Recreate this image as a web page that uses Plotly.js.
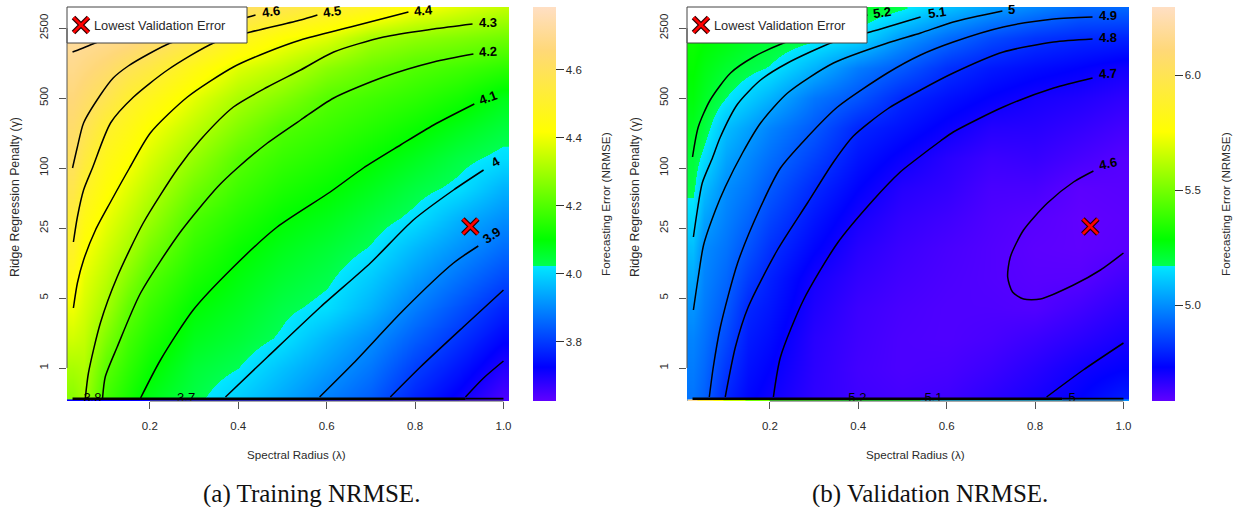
<!DOCTYPE html>
<html><head><meta charset="utf-8">
<script src="https://cdn.plot.ly/plotly-3.0.1.min.js"></script>
<style>html,body{margin:0;padding:0;background:#fff}#g{width:1242px;height:507px}</style>
</head><body><div id="g"></div>
<script>
// grid: spectral radius (lambda) and log10 of ridge penalty (gamma)
const lambdas=[0.025,0.05,0.10,0.15,0.20,0.30,0.40,0.50,0.60,0.70,0.80,0.90,1.0];
const logGammas=[-0.30,0,0.30,0.60,0.90,1.20,1.50,1.80,2.10,2.40,2.70,3.00,3.30,3.60];
const gammaTicks=[0,0.699,1.398,2,2.699,3.398];
const gammaTickText=['1','5','25','100','500','2500'];
const lambdaTicks=[0.2,0.4,0.6,0.8,1.0];

// training NRMSE, one list per lambda, from lowest to highest gamma
const trainColumns=[
[4.27,4.31,4.36,4.40,4.45,4.50,4.53,4.57,4.61,4.63,4.66,4.69,4.72,4.77],
[4.30,4.32,4.344,4.366,4.387,4.417,4.46,4.503,4.548,4.593,4.633,4.673,4.71,4.76],
[4.18,4.213,4.258,4.302,4.333,4.363,4.394,4.43,4.468,4.51,4.58,4.64,4.70,4.76],
[4.13,4.157,4.185,4.22,4.266,4.31,4.345,4.38,4.42,4.465,4.515,4.59,4.69,4.75],
[4.08,4.11,4.14,4.17,4.203,4.248,4.293,4.332,4.37,4.41,4.474,4.553,4.65,4.73],
[4.035,4.05,4.076,4.10,4.132,4.163,4.194,4.24,4.287,4.336,4.385,4.46,4.58,4.68],
[3.99,4.024,4.05,4.07,4.09,4.112,4.144,4.178,4.21,4.262,4.313,4.377,4.49,4.62],
[3.943,3.974,4.017,4.034,4.056,4.078,4.103,4.136,4.168,4.2,4.263,4.334,4.419,4.57],
[3.89,3.926,3.96,4.01,4.031,4.052,4.079,4.108,4.14,4.173,4.205,4.273,4.378,4.525],
[3.845,3.877,3.91,3.955,3.985,4.02,4.046,4.076,4.107,4.144,4.18,4.232,4.305,4.48],
[3.77,3.805,3.846,3.887,3.925,3.963,4.012,4.04,4.074,4.113,4.156,4.2,4.278,4.416],
[3.715,3.752,3.79,3.83,3.872,3.914,3.955,4.012,4.038,4.078,4.125,4.18,4.26,4.375],
[3.65,3.69,3.732,3.772,3.82,3.865,3.91,3.955,4.01,4.044,4.08,4.155,4.24,4.34]];
// validation NRMSE, same arrangement
const validColumns=[
[4.95,4.965,4.98,5.01,5.05,5.09,5.14,5.185,5.205,5.24,5.27,5.29,5.31,5.34],
[4.913,4.93,4.947,4.964,4.98,4.995,5.04,5.09,5.15,5.20,5.235,5.26,5.29,5.32],
[4.80,4.833,4.868,4.90,4.926,4.95,4.975,4.998,5.043,5.088,5.17,5.22,5.27,5.31],
[4.74,4.76,4.78,4.803,4.845,4.886,4.923,4.957,4.99,5.037,5.12,5.19,5.24,5.30],
[4.71,4.73,4.75,4.77,4.79,4.822,4.86,4.90,4.94,4.98,5.07,5.165,5.22,5.29],
[4.66,4.665,4.67,4.685,4.70,4.737,4.77,4.806,4.854,4.90,4.956,5.07,5.185,5.26],
[4.635,4.63,4.635,4.64,4.655,4.672,4.697,4.732,4.766,4.80,4.89,4.965,5.14,5.24],
[4.625,4.615,4.615,4.62,4.63,4.64,4.655,4.675,4.715,4.76,4.805,4.90,5.02,5.18],
[4.635,4.62,4.61,4.61,4.615,4.62,4.635,4.655,4.67,4.715,4.76,4.82,4.935,5.095],
[4.665,4.64,4.62,4.61,4.605,4.605,4.61,4.62,4.64,4.675,4.725,4.775,4.87,5.03],
[4.695,4.67,4.64,4.605,4.595,4.59,4.597,4.62,4.648,4.672,4.697,4.75,4.827,4.98],
[4.73,4.705,4.665,4.63,4.597,4.585,4.583,4.59,4.623,4.652,4.683,4.73,4.805,4.93],
[4.78,4.728,4.694,4.661,4.628,4.595,4.59,4.595,4.60,4.628,4.66,4.705,4.795,4.925]];

// gamma = 0 row at the foot of each panel
const trainFootEdges=[0.0125,0.33,0.6,0.75,0.9,1.0125];
const trainFoot=[3.72,3.72,3.70,3.68,3.65];
const validFootEdges=[0.0134,0.036,0.072,0.095,0.144,0.200,0.359,0.540,0.862,1.0125];
const validFoot=[6.2,5.95,5.8,5.65,5.5,5.35,5.25,5.1,5.0];
const footLog=[-0.33,-0.314];

// contour lines: [level, lambdas, log10 gammas]
const trainContours=[
['4.7',[.025,.043,.065,.099],[3.16,3.19,3.23,3.29]],
['4.6',[.025,.036,.050,.088,.117,.151,.197,.246,.337,.423,.439],[2.00,2.21,2.45,2.73,2.90,3.02,3.14,3.25,3.38,3.51,3.53]],
['4.5',[.027,.036,.050,.070,.111,.163,.240,.344,.428,.541,.579],[1.26,1.51,1.78,2.00,2.45,2.71,2.98,3.25,3.36,3.48,3.53]],
['4.4',[.027,.036,.050,.077,.111,.154,.201,.285,.389,.466,.541,.654,.785],[.60,.85,1.08,1.38,1.66,2.00,2.35,2.71,3.01,3.16,3.28,3.41,3.56]],
['4.3',[.054,.061,.088,.126,.185,.264,.314,.389,.466,.541,.616,.729,.842,.930],[-.30,-.05,.45,.91,1.45,2.00,2.28,2.61,2.81,2.98,3.16,3.31,3.39,3.44]],
['4.2',[.093,.099,.126,.179,.269,.353,.398,.466,.541,.616,.729,.842,.932],[-.30,-.09,.21,.75,1.36,1.81,2.00,2.25,2.48,2.70,2.91,3.06,3.14]],
['4.1',[.179,.224,.298,.389,.488,.608,.683,.767,.842,.934],[-.30,.08,.58,1.01,1.41,1.76,2.00,2.23,2.43,2.64]],
['4',[.371,.466,.586,.699,.796,.887,.955],[-.29,.11,.61,1.05,1.48,1.78,1.98]],
['3.9',[.584,.661,.774,.887,.943],[-.29,.05,.58,1.05,1.22]],
['3.8',[.744,.812,.909,1.0],[-.29,.01,.41,.78]],
['3.7',[.914,.955,1.0],[-.29,-.10,.07]]];
const validContours=[
['5.2',[.025,.038,.065,.111,.163,.231,.405,.421],[2.11,2.41,2.68,2.95,3.11,3.25,3.51,3.53]],
['5.1',[.027,.036,.047,.070,.088,.127,.179,.240,.344,.427,.541],[1.31,1.58,1.85,2.10,2.31,2.64,2.88,3.05,3.26,3.36,3.51]],
['5',[.027,.038,.050,.077,.099,.138,.179,.240,.344,.466,.541,.615,.726],[.58,.91,1.23,1.58,1.81,2.15,2.45,2.75,3.05,3.25,3.35,3.46,3.57]],
['4.9',[.063,.072,.088,.127,.179,.224,.285,.353,.466,.541,.615,.728,.842,.930],[-.29,.01,.41,1.05,1.61,2.00,2.31,2.61,2.95,3.13,3.26,3.41,3.49,3.51]],
['4.8',[.099,.122,.151,.217,.285,.344,.389,.466,.541,.615,.728,.842,.930],[-.29,.21,.61,1.18,1.65,2.06,2.32,2.59,2.78,2.95,3.16,3.26,3.29]],
['4.7',[.208,.224,.276,.353,.434,.495,.529,.586,.615,.728,.842,.930],[-.29,.11,.68,1.25,1.68,1.96,2.08,2.27,2.36,2.61,2.80,2.90]],
['4.7',[.826,.909,1.0],[-.29,-.02,.25]],
['4.6',[.932,.887,.828,.774,.744,.738,.749,.774,.812,.887,.948,1.0],[1.97,1.86,1.65,1.38,1.11,.91,.76,.69,.69,.83,.98,1.15]]];
// contours crowded along the foot of each panel
const trainBundle=[[.025,.914,2.6],[.914,1.0,1.8]];
const validBundle=[[.025,.861,2.6],[.861,1.0,1.8]];
const bundleLog=-0.307;

// contour labels: [text, lambda, log10 gamma, angle]
const trainLabels=[['4.6',.475,3.56,-8],['4.5',.613,3.56,-8],['4.4',.819,3.57,-5],['4.3',.964,3.45,0],['4.2',.966,3.16,-3],['4.1',.966,2.70,-20],['4',.984,2.06,-30],['3.9',.973,1.32,-35]];
const validLabels=[['5.2',.454,3.55,-8],['5.1',.577,3.55,-8],['5',.746,3.58,0],['4.9',.964,3.52,0],['4.8',.964,3.30,0],['4.7',.964,2.94,-3],['4.6',.966,2.04,-12]];
const trainFootLabels=[['3.8',.070],['3.7',.282]];
const validFootLabels=[['5.2',.398],['5.1',.570],['5',.884]];

// lowest validation error
const bestLambda=[0.925];
const bestLog=[1.415];
const legendText='Lowest Validation Error';
const xTitle='Spectral Radius (λ)', yTitle='Ridge Regression Penalty (γ)', barTitle='Forecasting Error (NRMSE)';

const trainRange=[3.626,4.785], validRange=[4.583,6.296];
const trainBarTicks=[3.8,4.0,4.2,4.4,4.6], validBarTicks=[5.0,5.5,6.0];
const scale=[[0,'#6000ff'],[0.086,'#0000ff'],[0.3429,'#00e8ff'],[0.3431,'#00ff50'],[0.41,'#00ff00'],[0.683,'#ffff00'],[0.89,'#ffd878'],[1,'#ffdfc4']];

const W=1242,H=507,pT=7,pB=401;
const transpose=c=>c[0].map((_,r)=>c.map(col=>col[r]));
const sans='"Liberation Sans",Arial,sans-serif', ink='#2a2a2a';

function panel(cols,foot,footEdges,contours,bundle,footLabels,xa,ya,ca,legA,legB){
  const ref={xaxis:xa,yaxis:ya};
  const t=[{type:'heatmap',x:lambdas,y:logGammas,z:transpose(cols),coloraxis:ca,zsmooth:'best',hoverinfo:'skip',...ref},
           {type:'heatmap',x:footEdges,y:footLog,z:[foot],coloraxis:ca,hoverinfo:'skip',...ref}];
  t.push({type:'scatter',mode:'text',x:footLabels.map(l=>l[1]),y:footLabels.map(()=>bundleLog-0.005),text:footLabels.map(l=>l[0]),textfont:{family:sans,size:13,color:'#000'},showlegend:false,hoverinfo:'skip',...ref});
  contours.forEach(c=>t.push({type:'scatter',mode:'lines',x:c[1],y:c[2],name:c[0],line:{color:'#000',width:1.5,shape:'spline',smoothing:0.7},showlegend:false,hoverinfo:'skip',...ref}));
  bundle.forEach(b=>t.push({type:'scatter',mode:'lines',x:[b[0],b[1]],y:[bundleLog,bundleLog],line:{color:'#000',width:b[2]},showlegend:false,hoverinfo:'skip',...ref}));
  t.push({type:'scatter',mode:'markers',x:bestLambda,y:bestLog,name:' ',legend:legA,showlegend:true,hoverinfo:'skip',
    marker:{symbol:'x-thin',size:15,line:{color:'#2a0000',width:5}},...ref});
  t.push({type:'scatter',mode:'markers',x:bestLambda,y:bestLog,name:' ',legend:legB,showlegend:true,hoverinfo:'skip',
    marker:{symbol:'x-thin',size:15,line:{color:'#ff0000',width:2.6}},...ref});
  return t;
}
const data=[...panel(trainColumns,trainFoot,trainFootEdges,trainContours,trainBundle,trainFootLabels,'x','y','coloraxis','legend','legend2'),
            ...panel(validColumns,validFoot,validFootEdges,validContours,validBundle,validFootLabels,'x2','y2','coloraxis2','legend3','legend4')];

const tickFont={family:sans,size:11.5,color:ink};
const yDom=[(H-pB)/H,(H-pT)/H];
const xax=(l,r)=>({domain:[l/W,r/W],range:[0.0125,1.0125],tickmode:'array',tickvals:lambdaTicks,ticktext:lambdaTicks.map(v=>v.toFixed(1)),ticks:'outside',ticklen:7,tickcolor:'#555',tickfont:tickFont,ticklabelstandoff:7,showgrid:false,zeroline:false,showline:false});
const yax=(anchor)=>({domain:yDom,anchor,range:[-0.33,3.61],tickmode:'array',tickvals:gammaTicks,ticktext:gammaTickText,tickangle:-90,ticks:'outside',ticklen:7,tickcolor:'#555',tickfont:tickFont,ticklabelstandoff:6,showgrid:false,zeroline:false,showline:false});
const cbar=(l,ticks)=>({x:l/W,xanchor:'left',xref:'paper',y:(H-pB)/H,yanchor:'bottom',yref:'paper',len:(pB-pT)/H,lenmode:'fraction',thickness:23,thicknessmode:'pixels',xpad:0,ypad:0,outlinewidth:0,tickmode:'array',tickvals:ticks,ticktext:ticks.map(v=>v.toFixed(1)),ticks:'outside',ticklen:8,tickcolor:'#333',tickfont:tickFont});
const legendOf=(l)=>({x:(l-6)/W,xanchor:'left',y:(H-25)/H,yanchor:'middle',bgcolor:'rgba(0,0,0,0)',borderwidth:0,font:{family:sans,size:12,color:ink},itemsizing:'trace'});
const boxOf=(l)=>({type:'rect',xref:'paper',yref:'paper',x0:l/W,x1:(l+180)/W,y0:(H-43)/H,y1:(H-7)/H,fillcolor:'#fff',line:{color:'#444',width:1},layer:'above'});
const spine=(xref,yref,x0,x1,y0,y1,color)=>({type:'line',xref,yref,x0,x1,y0,y1,line:{color:color||'#555',width:1},layer:'above'});
const barY=(v,rg)=>((H-pB)+(v-rg[0])/(rg[1]-rg[0])*(pB-pT))/H;
const barSpine=(px,ticks,rg)=>spine('paper','paper',px/W,px/W,barY(ticks[0],rg),barY(ticks[ticks.length-1],rg),'#444');

const annos=[];
const paperText=(text,px,py,size,extra)=>annos.push({xref:'paper',yref:'paper',x:px/W,y:(H-py)/H,text,showarrow:false,xanchor:'center',yanchor:'middle',font:{family:sans,size,color:ink},...extra});
[[trainLabels,'x','y'],[validLabels,'x2','y2']].forEach(([ls,xr,yr])=>ls.forEach(l=>annos.push({xref:xr,yref:yr,x:l[1],y:l[2],text:'<b>'+l[0]+'</b>',textangle:l[3],showarrow:false,font:{family:sans,size:13,color:'#000'}})));
[0,620].forEach(dx=>{
  paperText(xTitle,296+dx,454,11.6);
  paperText(yTitle,15+dx,197,12.3,{textangle:-90});
  paperText(barTitle,606+dx,204,11.7,{textangle:-90});
  paperText(legendText,92+dx,25,12.8,{xanchor:'left'});
});
[['(a) Training NRMSE.',311],['(b) Validation NRMSE.',930]].forEach(([t,c])=>paperText(t,c,494,25,{font:{family:'"Liberation Serif",serif',size:25,color:'#111'}}));

const layout={width:W,height:H,margin:{l:0,r:0,t:0,b:0},paper_bgcolor:'#fff',plot_bgcolor:'#fff',
  xaxis:xax(67,509),yaxis:yax('x'),
  xaxis2:xax(687,1129),yaxis2:yax('x2'),
  coloraxis:{colorscale:scale,cmin:trainRange[0],cmax:trainRange[1],colorbar:cbar(533,trainBarTicks)},
  coloraxis2:{colorscale:scale,cmin:validRange[0],cmax:validRange[1],colorbar:cbar(1152,validBarTicks)},
  legend:legendOf(67),legend2:legendOf(67),legend3:legendOf(687),legend4:legendOf(687),
  shapes:[boxOf(67),boxOf(687),
    spine('x','paper',0.2,1.0,yDom[0],yDom[0]),spine('x2','paper',0.2,1.0,yDom[0],yDom[0]),
    spine('paper','y',67/W,67/W,0,3.398),spine('paper','y2',687/W,687/W,0,3.398),
    barSpine(555.5,trainBarTicks,trainRange),barSpine(1174.5,validBarTicks,validRange)],
  annotations:annos,showlegend:true};
Plotly.newPlot('g',data,layout,{displayModeBar:false,staticPlot:true});
</script></body></html>
